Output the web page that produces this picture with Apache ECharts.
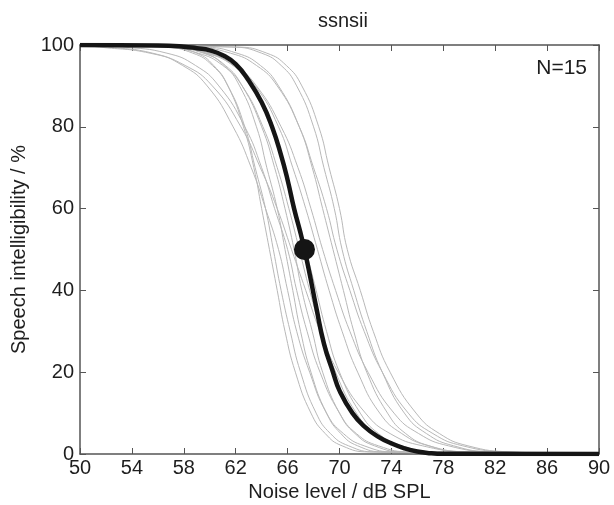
<!DOCTYPE html>
<html>
<head>
<meta charset="utf-8">
<script src="https://cdn.jsdelivr.net/npm/echarts@6/dist/echarts.min.js"></script>
<style>
    html, body { margin: 0; padding: 0; background: #fff; }
    #chart1 { width: 614px; height: 505px; }
</style>
</head>
<body>
<div id="chart1"></div>
<script>
    var yLevels = [99.5, 98, 95, 90, 80, 70, 60, 50, 40, 30, 20, 10, 5, 2, 0.5];

    // noise level (dB SPL) of each listener's curve at the levels above
    var listenerX = [
        [56.9, 59.0, 60.3, 61.4, 62.6, 63.4, 64.0, 64.6, 65.2, 65.8, 66.6, 67.8, 68.9, 70.2, 72.3],
        [56.4, 58.7, 60.2, 61.4, 62.7, 63.5, 64.3, 64.9, 65.5, 66.2, 67.0, 68.2, 69.3, 70.7, 72.8],
        [52.1, 55.6, 57.9, 59.8, 61.8, 63.2, 64.3, 65.3, 66.0, 66.7, 67.7, 69.0, 70.3, 71.9, 74.3],
        [57.3, 59.6, 61.1, 62.3, 63.6, 64.4, 65.2, 65.8, 66.4, 67.0, 67.8, 69.0, 70.1, 71.4, 73.5],
        [53.3, 56.7, 58.9, 60.7, 62.7, 64.0, 65.0, 66.0, 66.7, 67.5, 68.5, 70.0, 71.3, 73.0, 75.5],
        [57.0, 59.5, 61.2, 62.5, 64.0, 65.0, 65.8, 66.5, 67.1, 67.9, 68.7, 70.0, 71.2, 72.7, 75.0],
        [56.3, 59.1, 61.0, 62.5, 64.1, 65.2, 66.1, 66.9, 67.7, 68.6, 69.7, 71.3, 72.8, 74.7, 77.5],
        [57.3, 60.0, 61.8, 63.2, 64.8, 65.8, 66.6, 67.4, 68.2, 69.0, 70.0, 71.6, 73.0, 74.8, 77.5],
        [56.7, 59.7, 61.8, 63.5, 65.3, 66.4, 67.4, 68.3, 69.2, 70.2, 71.4, 73.1, 74.8, 76.9, 79.9],
        [56.5, 59.8, 61.9, 63.6, 65.5, 66.8, 67.8, 68.7, 69.7, 70.8, 72.2, 74.2, 76.1, 78.4, 81.9],
        [59.4, 62.1, 63.9, 65.3, 66.9, 67.9, 68.7, 69.5, 70.3, 71.1, 72.1, 73.7, 75.1, 76.9, 79.6],
        [58.7, 61.6, 63.6, 65.2, 66.9, 68.0, 69.0, 69.8, 70.8, 71.9, 73.3, 75.3, 77.2, 79.5, 83.0],
        [61.7, 64.0, 65.5, 66.7, 68.0, 68.8, 69.6, 70.2, 71.1, 72.1, 73.3, 75.0, 76.7, 78.8, 81.8],
        [62.1, 64.4, 65.9, 67.1, 68.4, 69.2, 70.0, 70.6, 71.6, 72.6, 73.9, 75.9, 77.7, 79.9, 83.3],
        [51.5, 55.4, 58.1, 60.2, 62.4, 63.9, 65.2, 66.3, 67.4, 68.5, 69.9, 72.0, 73.9, 76.4, 80.1]
    ];

    // group mean curve (thick black)
    var meanX = [50, 56, 58, 59, 60, 61, 62, 63, 64, 64.8, 65.5, 66, 66.5, 67, 67.3, 67.7, 68.2, 68.8, 69.5, 70, 71, 72, 73, 74, 75, 76, 77, 78, 90];
    var meanY = [100, 99.9, 99.6, 99.2, 98.7, 97.5, 95.3, 91.3, 86, 80, 73, 67, 60, 54, 50, 44, 36, 27, 20, 15.5, 10, 6.5, 4.2, 2.6, 1.4, 0.6, 0.2, 0.05, 0];

    // 50 % point (SRT)
    var srt = [67.3, 50];

    var xTicks = {min: 50, max: 90, step: 4};
    var yTicks = {min: 0, max: 100, step: 20};

    var chart1 = echarts.init(document.getElementById('chart1'));

    var fontFam = '"Liberation Sans", Arial, Helvetica, sans-serif';
    var frameColor = '#555';
    var textColor = '#1e1e1e';

    var series = [];
    listenerX.forEach(function (xs, i) {
        var pts = [[xTicks.min, 100]];
        for (var k = 0; k < xs.length; k++) {
            pts.push([xs[k], yLevels[k]]);
        }
        pts.push([xTicks.max, 0]);
        series.push({
            name: 'L' + (i + 1),
            type: 'line',
            data: pts,
            showSymbol: false,
            smooth: 0.5,
            lineStyle: {color: '#b8b8b8', width: 1},
            z: 2,
            silent: true
        });
    });

    series.push({
        name: 'mean',
        type: 'line',
        data: meanX.map(function (x, k) { return [x, meanY[k]]; }),
        showSymbol: false,
        smooth: 0.5,
        lineStyle: {color: '#151515', width: 4.5},
        z: 5,
        silent: true
    });

    series.push({
        name: 'srt',
        type: 'scatter',
        data: [srt],
        symbol: 'circle',
        symbolSize: 21,
        itemStyle: {color: '#151515', opacity: 1},
        z: 6,
        silent: true
    });

    var tickStyle = {show: true, inside: true, length: 6, lineStyle: {color: frameColor, width: 1}};
    var lineStyle = {show: true, onZero: false, lineStyle: {color: frameColor, width: 1.5}};

    var option = {
        animation: false,
        backgroundColor: '#fff',
        title: {
            text: 'ssnsii',
            left: 313,
            top: 6,
            textStyle: {
                fontFamily: fontFam,
                fontSize: 20,
                fontWeight: 'normal',
                color: textColor
            }
        },
        graphic: [{
            type: 'text',
            right: 27,
            top: 58,
            style: {
                text: 'N=15',
                font: '21px ' + fontFam,
                fill: textColor
            }
        }],
        grid: {left: 80, right: 15, top: 45, bottom: 51, outerBoundsMode: 'none', containLabel: false},
        xAxis: [
            {
                type: 'value',
                min: xTicks.min, max: xTicks.max, interval: xTicks.step,
                name: 'Noise level / dB SPL',
                nameLocation: 'middle',
                nameGap: 26,
                nameTextStyle: {fontFamily: fontFam, fontSize: 20, color: textColor},
                axisLine: lineStyle,
                axisTick: tickStyle,
                axisLabel: {fontFamily: fontFam, fontSize: 20, color: textColor, margin: 4},
                splitLine: {show: false}
            },
            {
                type: 'value', position: 'top',
                min: xTicks.min, max: xTicks.max, interval: xTicks.step,
                axisLine: lineStyle,
                axisTick: tickStyle,
                axisLabel: {show: false},
                splitLine: {show: false}
            }
        ],
        yAxis: [
            {
                type: 'value',
                min: yTicks.min, max: yTicks.max, interval: yTicks.step,
                name: 'Speech intelligibility / %',
                nameLocation: 'middle',
                nameGap: 45,
                nameTextStyle: {fontFamily: fontFam, fontSize: 20, color: textColor},
                axisLine: lineStyle,
                axisTick: tickStyle,
                axisLabel: {fontFamily: fontFam, fontSize: 20, color: textColor, margin: 6},
                splitLine: {show: false}
            },
            {
                type: 'value', position: 'right',
                min: yTicks.min, max: yTicks.max, interval: yTicks.step,
                axisLine: lineStyle,
                axisTick: tickStyle,
                axisLabel: {show: false},
                splitLine: {show: false}
            }
        ],
        series: series
    };

    chart1.setOption(option);
    window.addEventListener('resize', function () {
        chart1.resize();
    });
</script>
</body>
</html>
